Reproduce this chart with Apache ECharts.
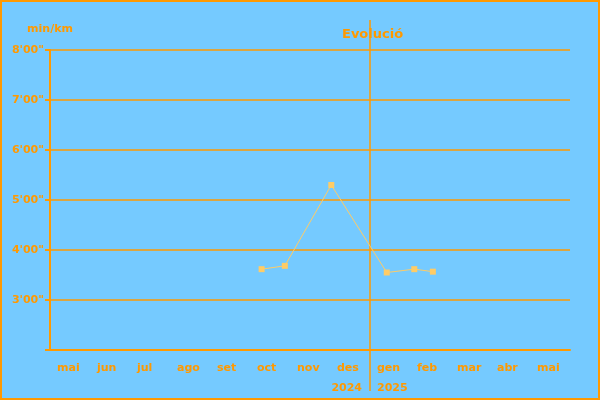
<!DOCTYPE html>
<html><head><meta charset="utf-8">
<script src="https://cdn.jsdelivr.net/npm/echarts@6/dist/echarts.min.js"></script>
<style>html,body{margin:0;padding:0;}#c{width:600px;height:400px;}</style>
</head><body><div id="c"></div>
<script>
// Data
const months = ['mai','jun','jul','ago','set','oct','nov','des','gen','feb','mar','abr','mai'];
const startYear = 2024, startMonth = 5; // first category = May 2024
const runDates = ['2024-10-10','2024-10-28','2024-12-02','2025-01-14','2025-02-04','2025-02-17'];
const runPaces = ["3:37","3:41","5:18","3:33","3:37","3:34"]; // min:sec per km
const yTicks = [2,3,4,5,6,7,8];
const yearLabels = ['2024','2025'];
const yearBoundaryIndex = 8;

const ORANGE = '#FF9900';
const FONT = 'DejaVu Sans';

function monthPos(s){
  const [y,m,d] = s.split('-').map(Number);
  const dim = new Date(y, m, 0).getDate();
  return (y-startYear)*12 + (m-startMonth) + (d-1)/dim;
}
function paceVal(p){ const [mm,ss]=p.split(':').map(Number); return mm+ss/60; }
const seriesData = runDates.map((d,i)=>[monthPos(d), paceVal(runPaces[i])]);

const chart = echarts.init(document.getElementById('c'), null, {renderer:'canvas'});
chart.setOption({
  backgroundColor:'#75CAFF',
  animation:false,
  title:{text:'Evolució', left:337, top:23, textStyle:{color:ORANGE, fontFamily:FONT, fontSize:13, fontWeight:'bold'}},
  grid:{left:50, right:30, top:50, bottom:50},
  xAxis:{type:'value', min:0, max:months.length, interval:1,
    axisLine:{lineStyle:{color:ORANGE, width:2}},
    axisTick:{show:false}, splitLine:{show:false},
    axisLabel:{color:ORANGE, fontFamily:FONT, fontSize:11, fontWeight:'bold', align:'left', padding:[0,0,0,7], margin:13,
      formatter:v=> (v<months.length && Number.isInteger(v)) ? months[v] : ''}
  },
  yAxis:{type:'value', min:yTicks[0], max:yTicks[yTicks.length-1], interval:1,
    name:'min/km', nameLocation:'end', nameGap:15,
    nameTextStyle:{color:ORANGE, fontFamily:FONT, fontSize:11, fontWeight:'bold', align:'center'},
    axisLine:{show:true, lineStyle:{color:ORANGE, width:2}},
    axisTick:{show:true, length:5, lineStyle:{color:ORANGE, width:2}},
    splitLine:{lineStyle:{color:ORANGE, width:1.5}},
    axisLabel:{color:ORANGE, fontFamily:FONT, fontSize:11, fontWeight:'bold', margin:6,
      formatter:v=> v===yTicks[0] ? '' : v+"'00\""}
  },
  series:[{type:'line', data:seriesData, symbol:'rect', symbolSize:6,
    lineStyle:{color:'#FFCC66', width:1}, itemStyle:{color:'#FFCC66'}}]
});
const px = chart.convertToPixel({xAxisIndex:0}, yearBoundaryIndex);
chart.setOption({graphic:[
  {type:'rect', shape:{x:1,y:1,width:598,height:398}, style:{fill:null, stroke:ORANGE, lineWidth:2}, silent:true},
  {type:'line', shape:{x1:px,y1:20,x2:px,y2:391}, style:{stroke:ORANGE, lineWidth:1.5}, silent:true},
  {type:'text', x:px-8, y:388, style:{text:yearLabels[0], fill:ORANGE, font:'bold 11px "DejaVu Sans"', textAlign:'right', textVerticalAlign:'middle'}},
  {type:'text', x:px+7, y:388, style:{text:yearLabels[1], fill:ORANGE, font:'bold 11px "DejaVu Sans"', textAlign:'left', textVerticalAlign:'middle'}}
]});
</script></body></html>
